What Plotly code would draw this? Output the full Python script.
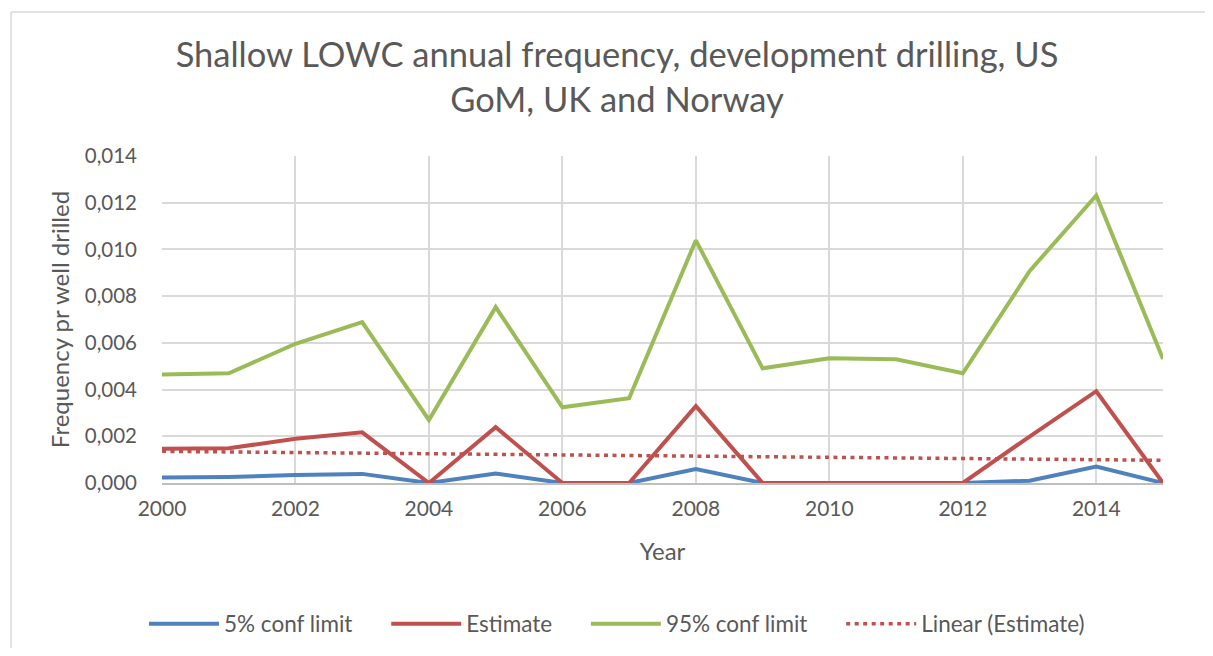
import numpy as np
import plotly.graph_objects as go

# data
years = list(range(2000, 2016))
conf5 = [0.00024, 0.00026, 0.00034, 0.00039, 0.0, 0.00041, 0.0, 0.0,
         0.00060, 0.0, 0.0, 0.0, 0.0, 0.00010, 0.00070, 0.0]
estimate = [0.00147, 0.00149, 0.00189, 0.00217, 0.0, 0.00239, 0.0, 0.0,
            0.00329, 0.0, 0.0, 0.0, 0.0, 0.00199, 0.00393, 0.0]
conf95 = [0.00464, 0.00470, 0.00596, 0.00689, 0.00270, 0.00753, 0.00324, 0.00363,
          0.01039, 0.00491, 0.00534, 0.00530, 0.00470, 0.00907, 0.01231, 0.00531]

# linear trendline of the estimate, as Excel does it
slope, icept = np.polyfit(years, estimate, 1)
trend = [slope * y + icept for y in years]

FONT = "Lato"
GREY = "#595959"
PAD = "\u00a0" * 5  # extra room between legend entries

fig = go.Figure()
fig.add_trace(go.Scatter(x=years, y=conf5, name="5% conf limit" + PAD, mode="lines",
                         line=dict(color="#4f81bd", width=4)))
fig.add_trace(go.Scatter(x=years, y=estimate, name="Estimate" + PAD, mode="lines",
                         line=dict(color="#c0504d", width=4)))
fig.add_trace(go.Scatter(x=years, y=conf95, name="95% conf limit" + PAD, mode="lines",
                         line=dict(color="#9bbb59", width=4)))
fig.add_trace(go.Scatter(x=years, y=trend, name="Linear (Estimate)", mode="lines",
                         line=dict(color="#c0504d", width=3.5, dash="4px,4.5px")))

# page body has an 8px margin, so the figure is 16px smaller than the window
W, H = 1197, 640
L, R, T, B = 154, 1155, 148, 475  # plot area in figure pixels
PW, PH = R - L, B - T

fig.update_layout(
    width=W, height=H,
    margin=dict(l=L, r=W - R, t=T, b=H - B),
    paper_bgcolor="white", plot_bgcolor="white",
    separators=", ",
    font=dict(family=FONT, color=GREY, size=20),
    title=dict(text="Shallow LOWC annual frequency, development drilling, US<br>GoM, UK and Norway",
               x=609 / W, xanchor="center", y=1 - 59 / H, yanchor="middle",
               font=dict(size=34.5, color=GREY, family=FONT)),
    xaxis=dict(range=[2000, 2015], tickmode="linear", tick0=2000, dtick=2,
               showgrid=True, gridcolor="#d9d9d9", gridwidth=1.5,
               showline=True, linecolor="#bfbfbf", linewidth=1.5,
               ticks="", zeroline=False, ticklabelstandoff=6,
               title=dict(text="Year", font=dict(size=24), standoff=24),
               tickfont=dict(size=21)),
    yaxis=dict(range=[0, 0.014], tickmode="linear", tick0=0, dtick=0.002,
               tickformat=".3f", showgrid=True, gridcolor="#d9d9d9", gridwidth=1.5,
               zeroline=False, showline=False, ticks="", ticklabelstandoff=24,
               title=dict(text="Frequency pr well drilled", font=dict(size=24), standoff=8),
               tickfont=dict(size=20.5)),
    legend=dict(orientation="h", xref="container", yref="container",
                x=609 / W, xanchor="center", y=1 - 616 / H, yanchor="middle",
                itemwidth=70, font=dict(size=22.5)),
    showlegend=True,
)

# chart-area frame like the Excel one: only its left and top edges are in view
frame = dict(color="#d9d9d9", width=1.5)
fig.add_shape(type="line", xref="paper", yref="paper",
              x0=(3 - L) / PW, x1=(3 - L) / PW, y0=(B - H - 20) / PH, y1=(B - 4) / PH,
              line=frame, layer="below")
fig.add_shape(type="line", xref="paper", yref="paper",
              x0=(3 - L) / PW, x1=(W + 20 - L) / PW, y0=(B - 4) / PH, y1=(B - 4) / PH,
              line=frame, layer="below")

fig.write_html("out.html")
